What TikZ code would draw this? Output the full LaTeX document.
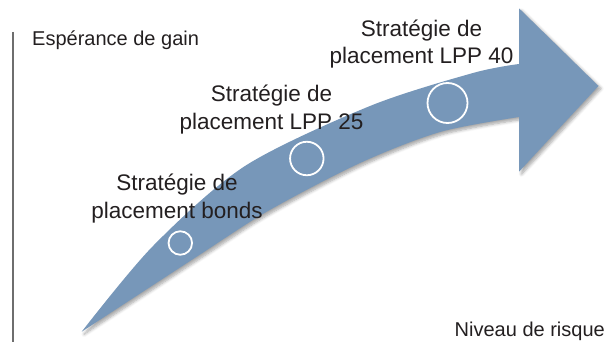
\documentclass[tikz,border=0pt]{standalone}
\usepackage{fontspec}
\setmainfont{Liberation Sans}
\usetikzlibrary{shadows.blur}
\definecolor{arrowblue}{RGB}{119,151,185}
\definecolor{txt}{RGB}{35,31,32}
\definecolor{axisgray}{RGB}{110,110,110}
\tikzset{
  bigarrow/.style={fill=arrowblue, blur shadow={shadow xshift=2.5pt, shadow yshift=-2.5pt, shadow blur steps=6, shadow blur radius=3pt, shadow opacity=35}},
  ring/.style={circle, draw=white, line width=1.8pt, inner sep=0pt},
  lbl/.style={text=txt, font=\fontsize{22.5}{27.5}\selectfont, align=center, inner sep=0pt, anchor=base},
  axlbl/.style={text=txt, font=\fontsize{20}{24}\selectfont, inner sep=0pt}
}
\begin{document}
\begin{tikzpicture}[x=1pt,y=-1pt]
\useasboundingbox (0,0) rectangle (609,342);
% axis line
\draw[axisgray, line width=1.2pt] (13,32) coordinate (ax1) -- (13,342) coordinate (ax2);
% arrow
\path[bigarrow] plot[smooth, tension=0.5] coordinates {(81.7,331.7) (153,246) (245,166) (370,106) (473,73) (519,64)}
  -- (519,8.3) -- (598.5,86) -- (519,171.7) -- (519,117)
  -- plot[smooth, tension=0.5] coordinates {(519,117) (440,132) (360,163) (268,211) (196.7,256.7) (81.7,331.7)}
  -- cycle;
% rings
\node[ring, minimum size=23.5pt] (c1) at (180.3,243) {};
\node[ring, minimum size=33.5pt] (c2) at (306.8,158.5) {};
\node[ring, minimum size=40pt] (c3) at (447.5,103) {};
% labels (anchor base = baseline of last line)
\node[lbl] (l1) at (177,218) {Stratégie de\\placement bonds};
\node[lbl] (l2) at (271.5,129) {Stratégie de\\placement LPP 25};
\node[lbl] (l3) at (421.5,64) {Stratégie de\\placement LPP 40};
\node[axlbl, anchor=base west] (ya) at (32,46) {Espérance de gain};
\node[axlbl, anchor=base east] (xa) at (605,336.7) {Niveau de risque};
\end{tikzpicture}
\end{document}
